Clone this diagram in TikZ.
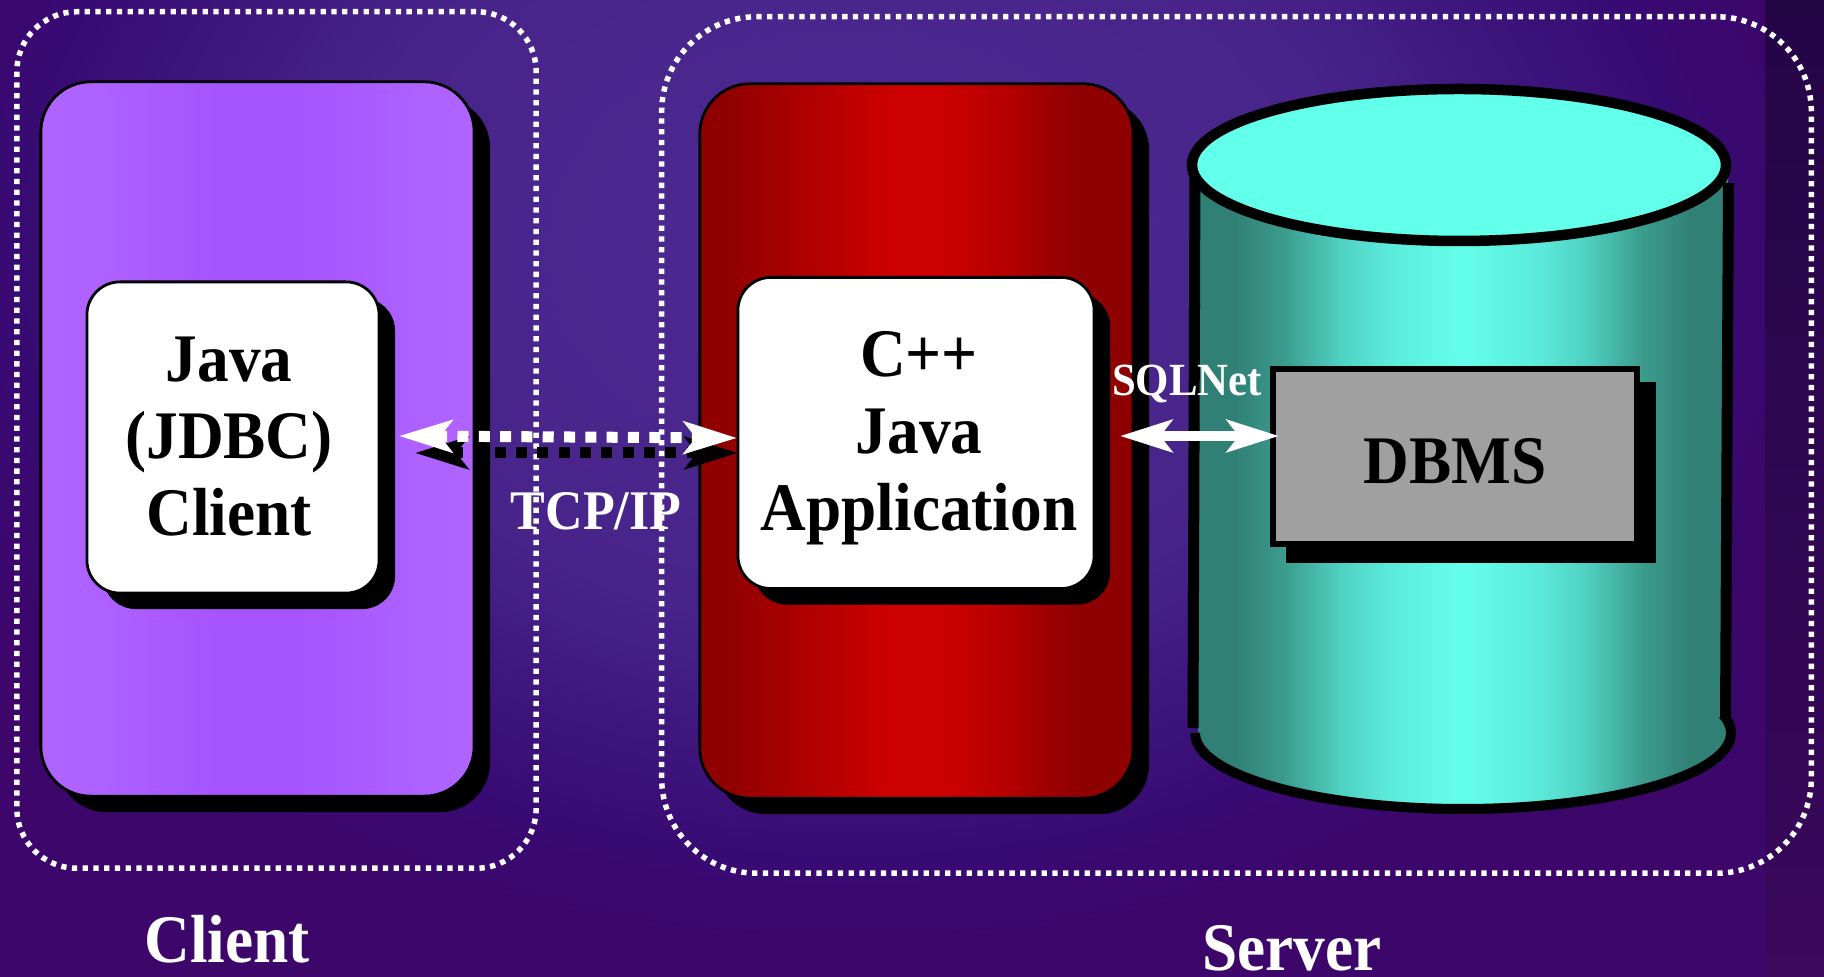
\documentclass[tikz,border=0pt]{standalone}
\usepackage{fontspec}
\setmainfont{Liberation Serif}[FakeStretch=0.93]
\usetikzlibrary{arrows.meta, shadows}
\definecolor{cyltop}{RGB}{98,255,235}
\definecolor{dbgrey}{RGB}{160,160,160}
\definecolor{bgedge}{RGB}{60,6,106}
\definecolor{stripA}{RGB}{36,5,70}
\definecolor{stripB}{RGB}{68,10,104}
\definecolor{stripC}{RGB}{58,8,92}
\pgfdeclareradialshading{bgglow}{\pgfpoint{0bp}{0bp}}{rgb(0bp)=(.30,.165,.57); rgb(13bp)=(.28,.14,.54);
  rgb(17bp)=(.24,.09,.49); rgb(21bp)=(.22,.04,.45); rgb(25bp)=(.235,.024,.416); rgb(50bp)=(.235,.024,.416)}
\pgfdeclarehorizontalshading{purplebar}{100bp}{rgb(0bp)=(.69,.39,1); rgb(25bp)=(.69,.39,1);
  rgb(32bp)=(.68,.38,1); rgb(45bp)=(.65,.33,1); rgb(55bp)=(.65,.33,1); rgb(68bp)=(.68,.38,1);
  rgb(75bp)=(.69,.39,1); rgb(100bp)=(.69,.39,1)}
\pgfdeclarehorizontalshading{redbar}{100bp}{rgb(0bp)=(.56,0,0); rgb(25bp)=(.56,0,0);
  rgb(28.75bp)=(.57,0,0); rgb(32bp)=(.62,0,0); rgb(40bp)=(.72,0,0); rgb(47bp)=(.80,0,0); rgb(53bp)=(.80,0,0);
  rgb(60bp)=(.72,0,0); rgb(65bp)=(.62,0,0); rgb(69bp)=(.56,0,0); rgb(75bp)=(.56,0,0); rgb(100bp)=(.56,0,0)}
\pgfdeclarehorizontalshading{tealbar}{100bp}{rgb(0bp)=(.19,.50,.46); rgb(25bp)=(.19,.50,.46);
  rgb(28.5bp)=(.19,.50,.46); rgb(33bp)=(.23,.61,.55); rgb(38.5bp)=(.31,.82,.76); rgb(43bp)=(.36,.92,.86);
  rgb(50bp)=(.39,1,.92); rgb(57bp)=(.36,.92,.86); rgb(61.5bp)=(.31,.82,.76); rgb(67bp)=(.23,.61,.55);
  rgb(71.5bp)=(.19,.50,.46); rgb(75bp)=(.19,.50,.46); rgb(100bp)=(.19,.50,.46)}
\tikzset{
  zone/.style = {draw=white, line width=.055cm, dash pattern=on 1.5pt off 1.55pt},
  panel/.style = {draw=black, line width=.028cm, rounded corners=.5cm,
    minimum width=4.33cm, minimum height=7.14cm,
    drop shadow={shadow xshift=.16cm, shadow yshift=-.16cm, fill=black, opacity=1}},
  card/.style = {panel, fill=white, rounded corners=.33cm, minimum height=3.11cm},
  cardtext/.style = {align=center, inner sep=0pt, font=\bigfont},
  caption/.style = {anchor=base, text=white, inner sep=0pt},
  link/.style = {<->, >={Stealth[length=.53cm, width=.32cm, inset=.12cm]},
    line width=.11cm, dash pattern=on 3.13pt off 2.93pt},
}
\newcommand{\bigfont}{\fontsize{19.35}{21.9}\selectfont\bfseries}
\begin{document}
\begin{tikzpicture}[x=.01cm, y=-.01cm]
\useasboundingbox (0,0) rectangle (1824,977);
\fill [bgedge] (0,0) rectangle (1824,977);
\path [shading=bgglow] (-150,-480) rectangle (1850,980);
\shade [top color=stripA, middle color=stripB, bottom color=stripC] (1765,0) rectangle (1824,977);

\node [zone, minimum width=5.19cm, minimum height=8.56cm, rounded corners=.6cm] (clientzone) at (276.5,440) {};
\node [zone, minimum width=11.49cm, minimum height=8.56cm, rounded corners=.95cm] (serverzone) at (1236.5,445) {};

\node [panel, shading=purplebar] (clientpanel) at (257.5,439) {};
\node [panel, shading=redbar] (apppanel) at (916.5,441) {};
\node [card, minimum width=2.92cm] (clientcard) at (233,437.5) {};
\node [card, minimum width=3.56cm] (appcard) at (916,433) {};
\node [cardtext] (clienttext) at (229,436.5) {Java\\(JDBC)\\Client};
\node [cardtext] (apptext) at (919,438) {C++\\Java\\Application};

\path [shading=tealbar] (1198,165) -- (1198,733) arc (180:0:265 and 72) -- (1728,165) -- cycle;
\draw [line width=.11cm] (1195,164) -- (1193,728);
\draw [line width=.11cm] (1728.5,183) -- (1725.5,717);
\draw [line width=.1cm] (1195,733) arc (180:-14:268 and 76);
\draw [line width=.105cm, fill=cyltop] (1459,165) ellipse (267 and 76);

\node [draw=black, fill=dbgrey, line width=.06cm, minimum width=3.64cm, minimum height=1.75cm,
  drop shadow={shadow xshift=.16cm, shadow yshift=-.16cm, fill=black, draw=black, opacity=1}] (dbms) at (1455,456.7) {};
\node [cardtext] (dbmstext) at (1455,461.7) {DBMS};

\coordinate (tcpA) at (415,453);
\coordinate (tcpB) at (738,453);
\coordinate (tcpC) at (399,436);
\coordinate (tcpD) at (737,438);
\draw [link, black] (tcpA) -- (tcpB);
\draw [link, white] (tcpC) -- (tcpD);
\node [caption, font=\fontsize{15.9}{18}\selectfont\bfseries] (tcplabel) at (596,530) {TCP/IP};

\coordinate (sqlA) at (1120,436);
\coordinate (sqlB) at (1279,436);
\draw [<->, >={Stealth[length=.52cm, width=.32cm, inset=.12cm]}, white, line width=.1cm] (sqlA) -- (sqlB);
\node [caption, font=\fontsize{13.1}{15}\selectfont\bfseries] (sqllabel) at (1187,396) {SQLNet};

\node [caption, font=\bigfont] (clientlabel) at (227,963) {Client};
\node [caption, font=\bigfont] (serverlabel) at (1292,971) {Server};
\end{tikzpicture}
\end{document}
